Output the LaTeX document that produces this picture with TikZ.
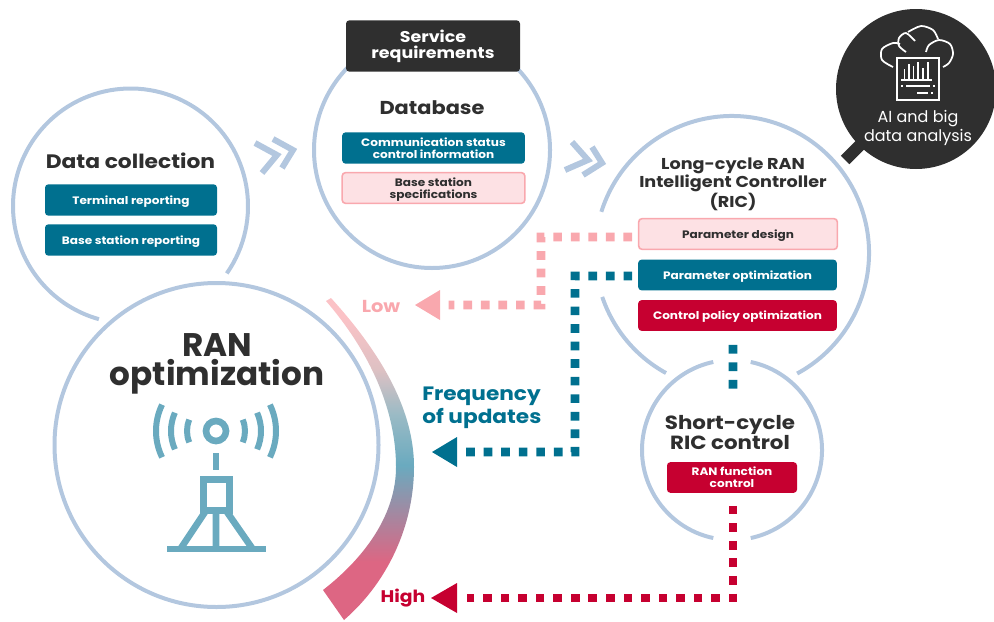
\documentclass[tikz,border=0pt]{standalone}
\usepackage{fontspec}
\setmainfont{Poppins}
\newfontfamily\widefont{Poppins}[FakeStretch=1.12]
\usepackage{tikz}
\usetikzlibrary{positioning}
\usetikzlibrary{calc}
\definecolor{ringblue}{HTML}{B3C7DF}
\definecolor{darkgrey}{HTML}{2F2F2F}
\definecolor{petrol}{HTML}{00708F}
\definecolor{crimson}{HTML}{C60030}
\definecolor{rosefill}{HTML}{FDE1E4}
\definecolor{roseline}{HTML}{F9A8AE}
\definecolor{towerblue}{HTML}{6AAABF}
\pgfdeclareverticalshading{updateshade}{100bp}{
  color(0bp)=(crimson!60!white);
  color(34bp)=(crimson!60!white);
  color(49bp)=(towerblue);
  color(57bp)=(towerblue!70!gray!70!white);
  color(64bp)=(roseline!60!gray!60!white);
  color(72bp)=(roseline!70!white);
  color(100bp)=(roseline!70!white)}
\newcommand{\pxfont}[2]{\fontsize{#1}{#2}\selectfont}
\tikzset{
  ring/.style={draw=ringblue,line width=3pt},
  title/.style={text=darkgrey,align=center,font=\widefont\bfseries\pxfont{14}{15.5}},
  boxlabel/.style={align=center,inner sep=0pt,rounded corners=2.5pt,font=\widefont\bfseries\pxfont{8.1}{9}},
  oneline/.style={text height=8pt,text depth=1.5pt},
  petrolbox/.style={boxlabel,fill=petrol,text=white},
  crimsonbox/.style={boxlabel,fill=crimson,text=white},
  rosebox/.style={boxlabel,fill=rosefill,draw=roseline,line width=1.2pt,text=darkgrey},
  dotted square/.style={line width=6.5pt,dash pattern=on 6.5pt off 6.66pt,line join=miter},
  chevron/.style={draw=ringblue,line width=4.5pt},
  tower/.style={draw=towerblue,line width=5pt},
  icon/.style={draw=white,line width=1.3pt}
}
\begin{document}
\begin{tikzpicture}[x=0.75pt,y=-0.75pt,line cap=butt]
\useasboundingbox (0,0) rectangle (994,621);
% rings
\draw [ring] (130.5,206) ++(35:117.5) arc[start angle=35,end angle=-254.4,radius=117.5];
\draw [ring] (432,150) circle (118);
\draw [ring] (732,253) ++(-162.5:137) arc[start angle=-162.5,end angle=61.6,radius=137];
\draw [ring] (732,253) ++(161.3:137) arc[start angle=161.3,end angle=118.8,radius=137];
\draw [ring] (732,450) ++(-78:90) arc[start angle=-78,end angle=78,radius=90];
\draw [ring] (732,450) ++(102:90) arc[start angle=102,end angle=258,radius=90];
\draw [ring] (216.5,445) circle (162);
% frequency band
\shade [shading=updateshade] (326,301) -- (331,298) .. controls (392,365) and (414,420) .. (414,467)
  .. controls (414,525) and (388,582) .. (344,620) -- (323,590)
  .. controls (368,555) and (396,512) .. (396,467) .. controls (396,410) and (370,352) .. (326,301) -- cycle;
% chevrons
\draw [chevron] (255,143) -- (277,155) -- (262,173);
\draw [chevron] (273,139) -- (293,150) -- (282,168);
\draw [chevron] (572,142) -- (588,160) -- (565,170);
\draw [chevron] (592,147) -- (602,163) -- (583,175);
% data collection
\node [title,font=\widefont\bfseries\pxfont{14.6}{15.5}] (datatitle) at (130.5,161) {Data collection};
\node [petrolbox,oneline,minimum width=129pt,minimum height=23.5pt] (terminal) at (131,200) {Terminal reporting};
\node [petrolbox,oneline,minimum width=129pt,minimum height=23.5pt] (basereport) at (131,240) {Base station reporting};
% database
\node [fill=darkgrey,text=white,rounded corners=2.5pt,align=center,inner sep=0pt,minimum width=130.5pt,minimum height=38.5pt,font=\widefont\bfseries\pxfont{11.7}{12}] (service) at (433,46) {\rule{0pt}{10pt}Service\\requirements};
\node [title] (dbtitle) at (432,108) {Database};
\node [petrolbox,minimum width=137pt,minimum height=23.5pt] (status) at (433.5,148) {Communication status\\control information};
\node [rosebox,minimum width=137pt,minimum height=23pt] (specs) at (433.5,188) {\rule{0pt}{9pt}Base station\\specifications};
% long cycle
\node [title,font=\widefont\bfseries\pxfont{11.8}{13.5}] (rictitle) at (733,184.5) {Long-cycle RAN\\Intelligent Controller\\(RIC)};
\node [rosebox,oneline,minimum width=149pt,minimum height=23pt] (design) at (738,234) {Parameter design};
\node [petrolbox,oneline,minimum width=149pt,minimum height=23pt] (optim) at (737.5,275) {Parameter optimization};
\node [crimsonbox,oneline,minimum width=149pt,minimum height=23pt] (policy) at (737.5,315.5) {Control policy optimization};
% short cycle
\node [title,font=\widefont\bfseries\pxfont{14.3}{15.5}] (shorttitle) at (730,432.5) {Short-cycle\\RIC control};
\node [crimsonbox,minimum width=97.5pt,minimum height=23pt] (func) at (732,477.5) {RAN function\\control};
% analysis bubble
\draw [line width=9pt,draw=darkgrey] (845,160) -- (862,143);
\node [circle,fill=darkgrey,minimum size=120pt,inner sep=0pt] (bubble) at (916,89) {};
\node [text=white,align=center,font=\pxfont{12}{14}] (bubbletext) at (918,128) {AI and big\\data analysis};
\draw [icon] (897,58) rectangle (939,100);
\draw [icon,line width=1pt] (904.5,80) -- (904.5,69) (909,80) -- (909,64) (913.5,80) -- (913.5,66) (918,80) -- (918,62) (923,80) -- (923,68) (928,80) -- (928,62);
\draw [icon,line width=1pt] (901,80) -- (932,80);
\draw [icon,line width=1.5pt] (906,86) -- (930,86) (917,93) -- (928,93);
\draw [icon,line width=1pt] (901,86) -- (903,86) (933,86) -- (935,86) (931,93) -- (933,93);
\draw [icon,smooth] plot coordinates {(893,67) (882,60) (882,49) (893,43) (900,44)};
\draw [icon,smooth] plot coordinates {(906,52) (899,46) (899,38) (906,33) (915,41)};
\draw [icon,smooth] plot coordinates {(908,32) (921,26) (933,30) (938,39)};
\draw [icon,smooth] plot coordinates {(926,52) (929,45) (939,40) (950,44) (953,54) (949,63) (943,67)};
% ran optimization
\node [text=darkgrey,align=center,font=\bfseries\pxfont{24.5}{22}] (rantitle) at (217,364) {RAN\\optimization};
\draw [tower] (216,431) circle (10);
\draw [tower] (216,453) -- (216,470);
\draw [tower] (203.5,479.5) rectangle (229.5,510.5);
\draw [tower] (205,512) -- (181,548) (227,512) -- (252,548) (216,512) -- (216,548);
\draw [tower] (167,549) -- (266,549);
\draw [tower,line width=4.5pt] (216,431) ++(154:60) arc[start angle=154,end angle=206,radius=60];
\draw [tower,line width=4.5pt] (216,431) ++(156:45) arc[start angle=156,end angle=204,radius=45];
\draw [tower,line width=4.5pt] (216,431) ++(157:29) arc[start angle=157,end angle=203,radius=29];
\draw [tower,line width=4.5pt] (216,431) ++(26:60) arc[start angle=26,end angle=-26,radius=60];
\draw [tower,line width=4.5pt] (216,431) ++(24:45) arc[start angle=24,end angle=-24,radius=45];
\draw [tower,line width=4.5pt] (216,431) ++(23:29) arc[start angle=23,end angle=-23,radius=29];
% update labels
\node [text=roseline,font=\widefont\bfseries\pxfont{13}{14}] (low) at (381,306) {Low};
\node [text=petrol,align=left,inner sep=0pt,anchor=west,font=\widefont\bfseries\pxfont{14.5}{17.5}] (frequency) at (422,407.5) {Frequency\\of updates};
\node [text=crimson,font=\widefont\bfseries\pxfont{12.6}{14}] (high) at (403,598.5) {High};
% arrow heads
\coordinate (lowtip) at (415,305);
\coordinate (midtip) at (432,452);
\coordinate (hightip) at (431,598);
\fill [roseline] (lowtip) -- ++(25,-15) -- ++(0,30) -- cycle;
\fill [petrol] (midtip) -- ++(25,-15) -- ++(0,30) -- cycle;
\fill [crimson] (hightip) -- ++(26,-15) -- ++(0,30) -- cycle;
% dotted connectors
\draw [dotted square,draw=roseline] ([xshift=-4.3pt,yshift=-2.2pt]design.west) -- (541,237) -- (541,305) -- (448.7,305);
\draw [dotted square,draw=petrol] ([xshift=-4.3pt,yshift=-.7pt]optim.west) -- (575,276) -- (575,452) -- (465.7,452);
\draw [dotted square,draw=crimson] ([xshift=.75pt,yshift=-9.5pt]func.south) -- (733,598) -- (466.7,598);
\draw [dotted square,draw=petrol] ([xshift=-3.4pt,yshift=-10.3pt]policy.south) -- (733,389);
\end{tikzpicture}
\end{document}
